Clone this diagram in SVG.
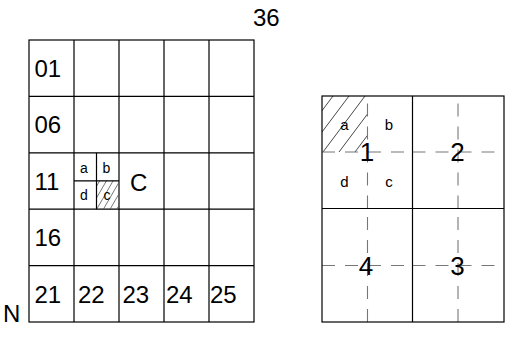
<svg xmlns="http://www.w3.org/2000/svg" width="510" height="342" viewBox="0 0 510 342">
<style>
text{font-family:"Liberation Sans",Arial,sans-serif;fill:#000}
.num{font-size:24px}
.big{font-size:26px;text-anchor:middle}
.sm{font-size:14px;text-anchor:middle}
.sm2{font-size:15px;text-anchor:middle}
.grid{fill:none;stroke:#000;stroke-width:1.2}
.dash{fill:none;stroke:#777;stroke-width:1.1;stroke-dasharray:13 10}
.hatch{stroke:#555;stroke-width:0.8}
.hatch2{stroke:#333;stroke-width:0.9}
</style>
<defs>
<clipPath id="clipC"><rect x="96" y="180.5" width="23" height="28.5"/></clipPath>
<clipPath id="clipA"><rect x="322" y="96" width="45.5" height="56"/></clipPath>
</defs>
<rect width="510" height="342" fill="#fff"/>
<text id="label36" class="num" x="253" y="26">36</text>
<text id="labelN" class="num" x="3" y="322">N</text>
<g id="leftGrid">
<rect class="grid" x="29" y="40" width="225" height="282"/>
<path class="grid" d="M74 40V322M119 40V322M164 40V322M209 40V322M29 96.4H254M29 152.8H254M29 209.2H254M29 265.6H254"/>
</g>
<g id="leftLabels">
<text class="num" x="34.5" y="77">01</text>
<text class="num" x="34.5" y="133">06</text>
<text class="num" x="34.5" y="189.5">11</text>
<text class="num" x="34.5" y="246">16</text>
<text class="num" x="34.5" y="302.5">21</text>
<text class="num" x="78" y="302.5">22</text>
<text class="num" x="122.5" y="302.5">23</text>
<text class="num" x="166" y="302.5">24</text>
<text class="num" x="210" y="302.5">25</text>
<text x="130" y="190.5" style="font-size:24px">C</text>
</g>
<g id="subcell">
<g clip-path="url(#clipC)">
<path class="hatch" d="M76.7 209l16.5 -28.5M83.4 209l16.5 -28.5M90.1 209l16.5 -28.5M96.8 209l16.5 -28.5M103.5 209l16.5 -28.5M110.2 209l16.5 -28.5M116.9 209l16.5 -28.5"/>
</g>
<path class="grid" d="M96.5 152.8V209.2M74 180.8H119"/>
<text class="sm" x="84" y="173">a</text>
<text class="sm" x="106.5" y="173">b</text>
<text class="sm" x="84" y="200">d</text>
<text class="sm" x="107" y="200">c</text>
</g>
<g id="rightGrid">
<g clip-path="url(#clipA)">
<path class="hatch2" d="M291 152l42 -56M307 152l42 -56M323 152l42 -56M339 152l42 -56M355 152l42 -56"/>
</g>
<g id="guides">
<path class="dash" d="M322 152H412.5M412.5 152H504M322 265.5H412.5M412.5 265.5H504"/>
<path class="dash" d="M367.5 208.5V96M458 208.5V96M367.5 322V208.5M458 322V208.5"/>
</g>
<rect class="grid" x="322" y="96" width="182" height="226"/>
<path class="grid" d="M412.5 96V322M322 208.5H504"/>
</g>
<g id="cell1">
<text class="big" x="367" y="161.3">1</text>
<text class="sm2" x="344.5" y="129.5">a</text>
<text class="sm2" x="389" y="129.5">b</text>
<text class="sm2" x="344.5" y="187">d</text>
<text class="sm2" x="389" y="187">c</text>
</g>
<g id="cell2"><text class="big" x="457.5" y="161.3">2</text></g>
<g id="cell3"><text class="big" x="457.5" y="274.8">3</text></g>
<g id="cell4"><text class="big" x="366" y="274.8">4</text></g>
<g id="connectors"/>
</svg>
